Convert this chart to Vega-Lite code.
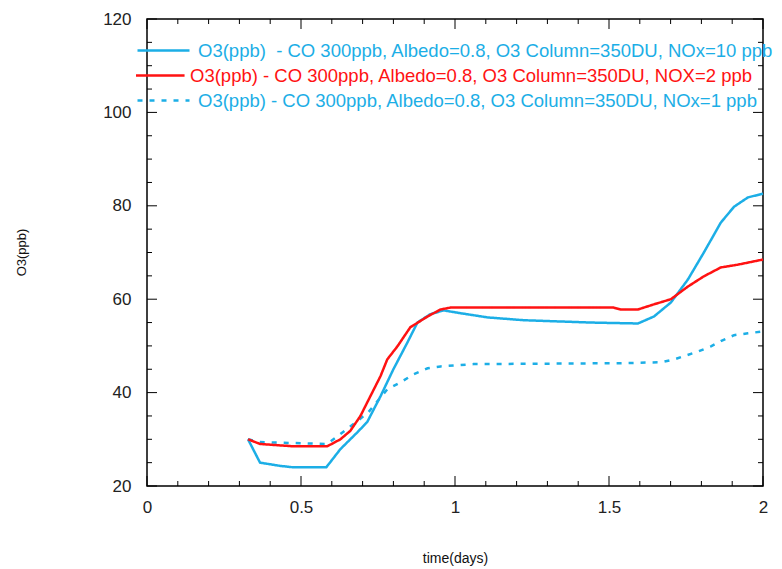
{
  "$schema": "https://vega.github.io/schema/vega-lite/v6.json",
  "autosize": "none",
  "padding": {"left": 147, "top": 19, "right": 19, "bottom": 83},
  "width": 616,
  "height": 467,
  "background": "white",
  "config": {
    "view": {"stroke": "black", "strokeWidth": 1.5},
    "font": "Liberation Sans",
    "tick": {"color": "black", "thickness": 1, "opacity": 1},
    "axis": {"grid": false, "domain": false, "labelFont": "Liberation Sans", "labelFontSize": 17, "labelColor": "#222222", "titleFont": "Liberation Sans", "titleFontWeight": "normal", "titleColor": "#111111"},
    "legend": {"orient": "none", "legendX": -11, "legendY": 19, "padding": 0, "symbolType": "stroke", "symbolSize": 2704, "symbolStrokeWidth": 2.5, "clipHeight": 25, "rowPadding": 0, "labelOffset": 7, "labelFont": "Liberation Sans", "labelFontSize": 18.5, "labelLimit": 0, "title": null}
  },
  "datasets": {
    "curves": [
      {"series": "NOx1", "t": 0.328, "o3": 30.0},
      {"series": "NOx1", "t": 0.367, "o3": 29.4},
      {"series": "NOx1", "t": 0.585, "o3": 29.0},
      {"series": "NOx1", "t": 0.650, "o3": 32.2},
      {"series": "NOx1", "t": 0.719, "o3": 35.8},
      {"series": "NOx1", "t": 0.780, "o3": 40.7},
      {"series": "NOx1", "t": 0.823, "o3": 42.2},
      {"series": "NOx1", "t": 0.865, "o3": 43.9},
      {"series": "NOx1", "t": 0.911, "o3": 45.2},
      {"series": "NOx1", "t": 0.953, "o3": 45.6},
      {"series": "NOx1", "t": 1.060, "o3": 46.1},
      {"series": "NOx1", "t": 1.538, "o3": 46.3},
      {"series": "NOx1", "t": 1.668, "o3": 46.5},
      {"series": "NOx1", "t": 1.711, "o3": 47.1},
      {"series": "NOx1", "t": 1.789, "o3": 48.8},
      {"series": "NOx1", "t": 1.831, "o3": 49.9},
      {"series": "NOx1", "t": 1.863, "o3": 51.0},
      {"series": "NOx1", "t": 1.906, "o3": 52.3},
      {"series": "NOx1", "t": 1.951, "o3": 52.7},
      {"series": "NOx1", "t": 2.000, "o3": 53.1},
      {"series": "NOx10", "t": 0.328, "o3": 30.0},
      {"series": "NOx10", "t": 0.367, "o3": 25.0},
      {"series": "NOx10", "t": 0.433, "o3": 24.3},
      {"series": "NOx10", "t": 0.475, "o3": 24.0},
      {"series": "NOx10", "t": 0.582, "o3": 24.0},
      {"series": "NOx10", "t": 0.628, "o3": 27.9},
      {"series": "NOx10", "t": 0.683, "o3": 31.5},
      {"series": "NOx10", "t": 0.715, "o3": 33.7},
      {"series": "NOx10", "t": 0.758, "o3": 39.2},
      {"series": "NOx10", "t": 0.800, "o3": 45.0},
      {"series": "NOx10", "t": 0.846, "o3": 50.8},
      {"series": "NOx10", "t": 0.878, "o3": 55.0},
      {"series": "NOx10", "t": 0.920, "o3": 56.8},
      {"series": "NOx10", "t": 0.963, "o3": 57.6},
      {"series": "NOx10", "t": 1.018, "o3": 57.0},
      {"series": "NOx10", "t": 1.106, "o3": 56.1},
      {"series": "NOx10", "t": 1.223, "o3": 55.5},
      {"series": "NOx10", "t": 1.311, "o3": 55.3},
      {"series": "NOx10", "t": 1.441, "o3": 55.0},
      {"series": "NOx10", "t": 1.594, "o3": 54.8},
      {"series": "NOx10", "t": 1.646, "o3": 56.3},
      {"series": "NOx10", "t": 1.701, "o3": 59.3},
      {"series": "NOx10", "t": 1.756, "o3": 64.2},
      {"series": "NOx10", "t": 1.808, "o3": 70.0},
      {"series": "NOx10", "t": 1.863, "o3": 76.4},
      {"series": "NOx10", "t": 1.906, "o3": 79.8},
      {"series": "NOx10", "t": 1.951, "o3": 81.8},
      {"series": "NOx10", "t": 2.000, "o3": 82.6},
      {"series": "NOX2", "t": 0.328, "o3": 30.0},
      {"series": "NOX2", "t": 0.367, "o3": 29.0},
      {"series": "NOX2", "t": 0.475, "o3": 28.5},
      {"series": "NOX2", "t": 0.585, "o3": 28.5},
      {"series": "NOX2", "t": 0.628, "o3": 30.0},
      {"series": "NOX2", "t": 0.660, "o3": 31.8},
      {"series": "NOX2", "t": 0.693, "o3": 35.0},
      {"series": "NOX2", "t": 0.725, "o3": 39.2},
      {"series": "NOX2", "t": 0.758, "o3": 43.5},
      {"series": "NOX2", "t": 0.780, "o3": 47.1},
      {"series": "NOX2", "t": 0.813, "o3": 49.9},
      {"series": "NOX2", "t": 0.855, "o3": 54.0},
      {"series": "NOX2", "t": 0.911, "o3": 56.3},
      {"series": "NOX2", "t": 0.953, "o3": 57.8},
      {"series": "NOX2", "t": 0.985, "o3": 58.2},
      {"series": "NOX2", "t": 1.515, "o3": 58.2},
      {"series": "NOX2", "t": 1.538, "o3": 57.8},
      {"series": "NOX2", "t": 1.594, "o3": 57.8},
      {"series": "NOX2", "t": 1.646, "o3": 58.9},
      {"series": "NOX2", "t": 1.701, "o3": 60.0},
      {"series": "NOX2", "t": 1.756, "o3": 62.7},
      {"series": "NOX2", "t": 1.808, "o3": 64.9},
      {"series": "NOX2", "t": 1.863, "o3": 66.8},
      {"series": "NOX2", "t": 1.919, "o3": 67.4},
      {"series": "NOX2", "t": 2.000, "o3": 68.5}
    ],
    "xmajor": [{"v": 0}, {"v": 0.5}, {"v": 1}, {"v": 1.5}, {"v": 2}],
    "xminor": [{"v": 0.1}, {"v": 0.2}, {"v": 0.3}, {"v": 0.4}, {"v": 0.6}, {"v": 0.7}, {"v": 0.8}, {"v": 0.9}, {"v": 1.1}, {"v": 1.2}, {"v": 1.3}, {"v": 1.4}, {"v": 1.6}, {"v": 1.7}, {"v": 1.8}, {"v": 1.9}],
    "ymajor": [{"v": 20}, {"v": 40}, {"v": 60}, {"v": 80}, {"v": 100}, {"v": 120}],
    "yminor": [{"v": 25}, {"v": 30}, {"v": 35}, {"v": 45}, {"v": 50}, {"v": 55}, {"v": 65}, {"v": 70}, {"v": 75}, {"v": 85}, {"v": 90}, {"v": 95}, {"v": 105}, {"v": 110}, {"v": 115}]
  },
  "resolve": {"axis": {"x": "independent", "y": "independent"}},
  "layer": [
    {
      "data": {"name": "curves"},
      "mark": {"type": "line", "strokeWidth": 2.5},
      "encoding": {
        "x": {"field": "t", "type": "quantitative", "scale": {"domain": [0, 2], "nice": false, "zero": false},
              "axis": {"orient": "bottom", "values": [0, 0.5, 1, 1.5, 2], "format": "~g", "ticks": false, "tickSize": 0, "labelPadding": 13, "title": "time(days)", "titleFontSize": 14, "titleY": 72, "titleBaseline": "middle", "labelFlush": false, "labelOverlap": false}},
        "y": {"field": "o3", "type": "quantitative", "scale": {"domain": [20, 120], "nice": false, "zero": false},
              "axis": {"orient": "left", "values": [20, 40, 60, 80, 100, 120], "ticks": false, "tickSize": 0, "labelPadding": 16, "title": "O3(ppb)", "titleFontSize": 13, "titleX": -126, "titleY": 233, "titleAngle": -90, "titleAlign": "center", "titleBaseline": "middle", "labelFlush": false, "labelOverlap": false}},
        "color": {"field": "series", "type": "nominal",
                  "scale": {"domain": ["NOx10", "NOX2", "NOx1"], "range": ["#1CAEE6", "#FF1212", "#1CAEE6"]},
                  "legend": {"labelExpr": "datum.value == 'NOx10' ? 'O3(ppb) \u00a0- CO 300ppb, Albedo=0.8, O3 Column=350DU, NOx=10 ppb' : datum.value == 'NOX2' ? 'O3(ppb) - CO 300ppb, Albedo=0.8, O3 Column=350DU, NOX=2 ppb' : 'O3(ppb) - CO 300ppb, Albedo=0.8, O3 Column=350DU, NOx=1 ppb'",
                             "encode": {
                               "labels": {"update": {"fill": {"signal": "scale('color', datum.value)"}, "dx": {"signal": "datum.value == 'NOX2' ? -8 : 0"}}},
                               "symbols": {"update": {"shape": {"signal": "datum.value == 'NOX2' ? 'M-1.31,0H0.81' : 'stroke'"}}}
                             }}},
        "strokeDash": {"field": "series", "type": "nominal",
                       "scale": {"domain": ["NOx10", "NOX2", "NOx1"], "range": [[1, 0], [1, 0], [5, 7]]}}
      }
    },
    {
      "data": {"name": "xmajor"},
      "mark": {"type": "tick", "orient": "vertical", "size": 10, "yOffset": -5},
      "encoding": {"x": {"field": "v", "type": "quantitative", "axis": null}, "y": {"datum": 20, "type": "quantitative", "axis": null}}
    },
    {
      "data": {"name": "xmajor"},
      "mark": {"type": "tick", "orient": "vertical", "size": 10, "yOffset": 5},
      "encoding": {"x": {"field": "v", "type": "quantitative", "axis": null}, "y": {"datum": 120, "type": "quantitative", "axis": null}}
    },
    {
      "data": {"name": "xminor"},
      "mark": {"type": "tick", "orient": "vertical", "size": 5, "yOffset": -2.5},
      "encoding": {"x": {"field": "v", "type": "quantitative", "axis": null}, "y": {"datum": 20, "type": "quantitative", "axis": null}}
    },
    {
      "data": {"name": "xminor"},
      "mark": {"type": "tick", "orient": "vertical", "size": 5, "yOffset": 2.5},
      "encoding": {"x": {"field": "v", "type": "quantitative", "axis": null}, "y": {"datum": 120, "type": "quantitative", "axis": null}}
    },
    {
      "data": {"name": "ymajor"},
      "mark": {"type": "tick", "orient": "horizontal", "size": 10, "xOffset": 5},
      "encoding": {"y": {"field": "v", "type": "quantitative", "axis": null}, "x": {"datum": 0, "type": "quantitative", "axis": null}}
    },
    {
      "data": {"name": "ymajor"},
      "mark": {"type": "tick", "orient": "horizontal", "size": 10, "xOffset": -5},
      "encoding": {"y": {"field": "v", "type": "quantitative", "axis": null}, "x": {"datum": 2, "type": "quantitative", "axis": null}}
    },
    {
      "data": {"name": "yminor"},
      "mark": {"type": "tick", "orient": "horizontal", "size": 5, "xOffset": 2.5},
      "encoding": {"y": {"field": "v", "type": "quantitative", "axis": null}, "x": {"datum": 0, "type": "quantitative", "axis": null}}
    },
    {
      "data": {"name": "yminor"},
      "mark": {"type": "tick", "orient": "horizontal", "size": 5, "xOffset": -2.5},
      "encoding": {"y": {"field": "v", "type": "quantitative", "axis": null}, "x": {"datum": 2, "type": "quantitative", "axis": null}}
    }
  ]
}
